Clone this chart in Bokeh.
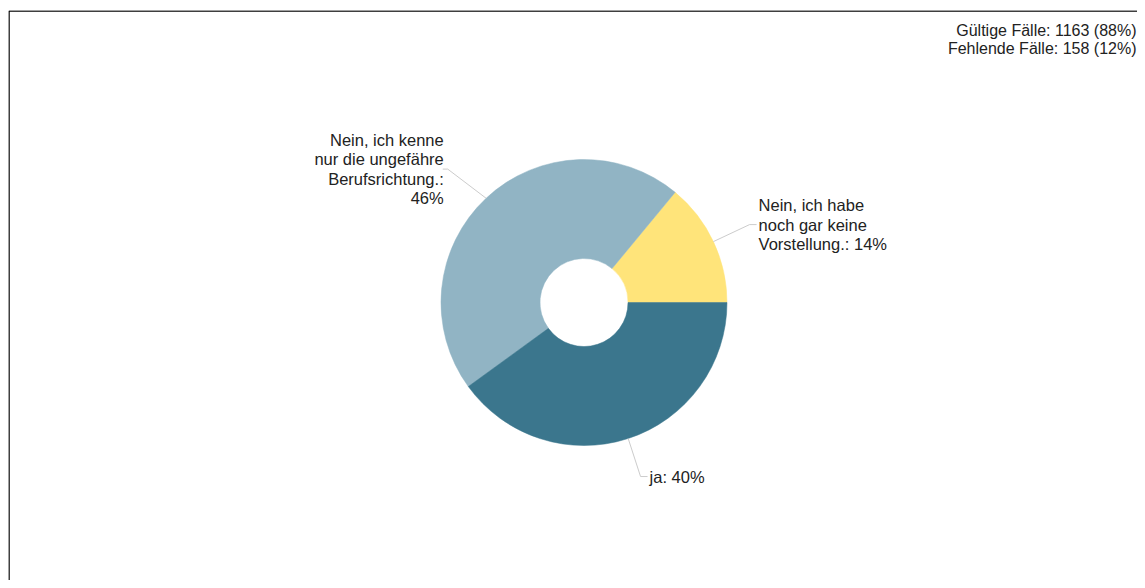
import math
from bokeh.plotting import figure
from bokeh.embed import file_html
from bokeh.resources import INLINE
from bokeh.core.properties import value

# ---- data ----
labels = ["Nein, ich habe\nnoch gar keine\nVorstellung.: 14%",
          "Nein, ich kenne\nnur die ungefähre\nBerufsrichtung.:\n46%",
          "ja: 40%"]
shares = [14, 46, 40]
colors = ["#FFE47A", "#91B4C4", "#3B768D"]
info_lines = ["Gültige Fälle: 1163 (88%)", "Fehlende Fälle: 158 (12%)"]

W, H = 1137, 580
LEFT, TOP = 8, 10
FH = H - TOP
p = figure(width=W, height=H, x_range=(LEFT, W), y_range=(0, FH),
           output_backend="svg", toolbar_location=None,
           min_border_left=LEFT, min_border_right=0, min_border_bottom=0,
           min_border_top=TOP)
p.axis.visible = False
p.grid.visible = False
p.outline_line_color = None
p.background_fill_color = "white"
p.border_fill_color = "white"

# left and top frame border
p.line([LEFT + 0.5, LEFT + 0.5, W + 5], [-5, FH - 0.5, FH - 0.5],
       line_color="#000000", line_width=1.5)

cx, cy = 583.5, H - 302
r_out, r_in = 143, 44

total = sum(shares)
starts, ends, mids = [], [], []
a = 0.0
for s in shares:
    ang = 2 * math.pi * s / total
    starts.append(a)
    ends.append(a + ang)
    mids.append(a + ang / 2)
    a += ang

p.annular_wedge(x=cx, y=cy, inner_radius=r_in, outer_radius=r_out,
                inner_radius_units="screen", outer_radius_units="screen",
                start_angle=starts, end_angle=ends,
                fill_color=colors, line_color=colors, line_width=0.5)

font = value("Liberation Sans")
for lab, m in zip(labels, mids):
    dx, dy = math.cos(m), math.sin(m)
    x0, y0 = cx + r_out * dx, cy + r_out * dy
    ex, ey = cx + (r_out + 40) * dx, cy + (r_out + 40) * dy
    side = 1 if dx >= 0 else -1
    if side < 0:
        ex -= 11
        hx = ex - 5
        tx = hx + 1
    else:
        hx = ex + 7
        tx = hx + 2
    p.line([x0, ex, hx], [y0, ey, ey], line_color="#cccccc", line_width=1)
    p.text(x=[tx], y=[ey], text=[lab],
           text_align="left" if side > 0 else "right",
           text_baseline="middle", text_font=font, text_font_size="16.5px",
           text_color="#222222", text_line_height=1.07)

for i, t in enumerate(info_lines):
    p.text(x=[W - 1], y=[H - 30 - 18 * i], text=[t], text_align="right",
           text_baseline="middle", text_font=font, text_font_size="16px",
           text_color="#222222")

open("out.html", "w").write(file_html(p, INLINE))
